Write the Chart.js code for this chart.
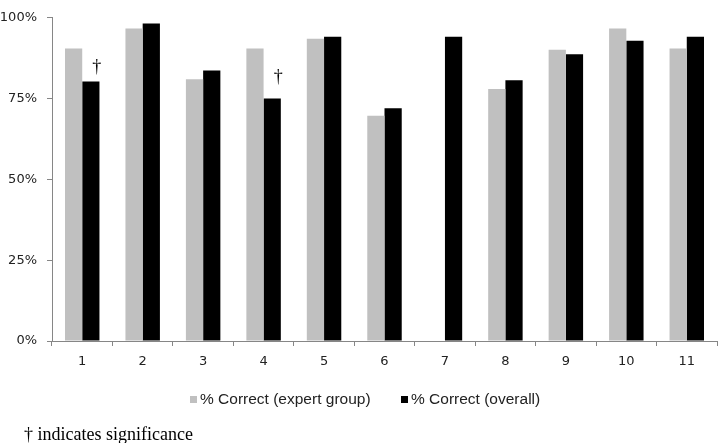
<!DOCTYPE html>
<html>
<head>
<meta charset="utf-8">
<script src="https://cdn.jsdelivr.net/npm/chart.js@4"></script>
<style>
  html,body{margin:0;padding:0;background:#fff;}
  #wrap{position:relative;width:719px;height:443px;}
  #note{position:absolute;left:24px;top:424px;font-family:"Liberation Serif","Times New Roman",serif;font-size:18px;line-height:21px;color:#000;white-space:nowrap;}
  .lg{position:absolute;top:389px;height:20px;display:flex;align-items:center;white-space:nowrap;
      font-family:"Liberation Sans",Arial,sans-serif;font-size:15.5px;color:#222;}
  .lg i{display:inline-block;width:7px;height:7px;margin-right:3px;}
</style>
</head>
<body>
<div id="wrap">
  <canvas id="c" width="719" height="443"></canvas>
  <div id="legend"></div>
  <div id="note">† indicates significance</div>
</div>
<script>
const categories = ["1","2","3","4","5","6","7","8","9","10","11"];
const expertGroup = [90.5, 96.7, 81.0, 90.5, 93.5, 69.7, null, 78.0, 90.1, 96.7, 90.5];
const overall     = [80.3, 98.2, 83.7, 75.0, 94.1, 72.0, 94.1, 80.7, 88.7, 92.9, 94.1];
const significant = [true, false, false, true, false, false, false, false, false, false, false];
const daggerLevel = [82.9, null, null, 79.6, null, null, null, null, null, null, null];
const yTicks = [0, 25, 50, 75, 100];
const seriesNames = ["% Correct (expert group)", "% Correct (overall)"];
const seriesColors = ['#c0c0c0', '#000000'];

const daggerPlugin = {
  id: 'dagger',
  afterDatasetsDraw(chart) {
    const ctx = chart.ctx;
    const meta = chart.getDatasetMeta(1);
    const y = chart.scales.y;
    ctx.save();
    ctx.font = '18px "Liberation Serif", "Times New Roman", serif';
    ctx.fillStyle = '#000';
    ctx.textAlign = 'center';
    ctx.textBaseline = 'bottom';
    significant.forEach((s, i) => {
      if (!s) return;
      const bar = meta.data[i];
      ctx.fillText('†', bar.x + 6, y.getPixelForValue(daggerLevel[i]) + 3);
    });
    ctx.restore();
  }
};

const axisColor = '#868686';
const tickFont = { family: '"DejaVu Sans", Verdana, sans-serif', size: 13 };
const chart = new Chart(document.getElementById('c'), {
  type: 'bar',
  data: {
    labels: categories,
    datasets: [
      { label: seriesNames[0], data: expertGroup, backgroundColor: seriesColors[0], borderWidth: 0,
        categoryPercentage: 0.57, barPercentage: 1.0 },
      { label: seriesNames[1], data: overall, backgroundColor: seriesColors[1], borderWidth: 0,
        categoryPercentage: 0.57, barPercentage: 1.0 }
    ]
  },
  options: {
    responsive: false,
    animation: false,
    layout: { padding: { top: 5, right: 2, left: 0, bottom: 73 } },
    plugins: {
      tooltip: { enabled: false },
      legend: { display: false }
    },
    scales: {
      x: {
        grid: { offset: true, drawOnChartArea: false, tickLength: 5, color: axisColor },
        border: { color: axisColor },
        ticks: { color: '#222', padding: 8, maxRotation: 0, font: tickFont },
        afterFit(s) { s.height = 29; }
      },
      y: {
        min: 0, max: 100,
        afterBuildTicks(s) { s.ticks = yTicks.map(v => ({ value: v })); },
        grid: { drawOnChartArea: false, tickLength: 5, color: axisColor },
        border: { color: axisColor },
        ticks: { color: '#222', padding: 10, callback: v => v + '%', font: tickFont },
        afterFit(s) { s.width = 52; }
      }
    }
  },
  plugins: [daggerPlugin]
});

// legend built from the chart's datasets
const legendLeft = [190, 401];
const lg = document.getElementById('legend');
chart.data.datasets.forEach((ds, i) => {
  const d = document.createElement('div');
  d.className = 'lg';
  d.style.left = legendLeft[i] + 'px';
  const sw = document.createElement('i');
  sw.style.background = ds.backgroundColor;
  d.appendChild(sw);
  d.appendChild(document.createTextNode(ds.label));
  lg.appendChild(d);
});
</script>
</body>
</html>
